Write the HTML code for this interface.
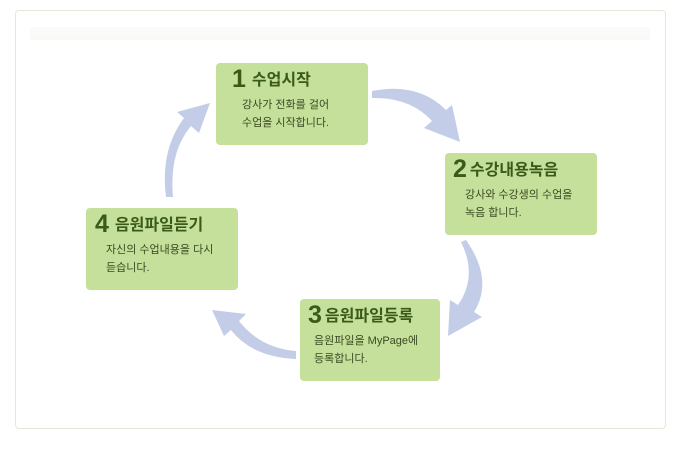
<!DOCTYPE html>
<html><head><meta charset="utf-8"><style>
body{margin:0;width:680px;height:451px;background:#fff;position:relative;overflow:hidden;font-family:"Liberation Sans","Noto Sans CJK KR","NanumGothic",sans-serif}
.frame{position:absolute;left:15px;top:10px;width:649px;height:417px;border:1px solid #e3e8d8;border-radius:4px}
.band{position:absolute;left:30px;top:27px;width:620px;height:13px;background:linear-gradient(#fbfbfa,#f9faf8)}
.box{position:absolute;background:#c5e09b;border-radius:4px;color:#3a5a1a}
.box h3{margin:0;font-size:16px;font-weight:bold;color:#3a5a1a;white-space:nowrap}
.box h3 b{font-size:25px;margin-right:6px;vertical-align:-2px}
.box p{margin:0;font-size:11px;line-height:18px;color:#3a4a22;white-space:nowrap}
</style></head><body>
<div class="frame"></div><div class="band"></div>
<svg width="680" height="451" style="position:absolute;left:0;top:0">
<g fill="#c3cde8">
<path d="M372,91 Q418,82 446,110 L452,105 L460,142 L424,128 L432,121 Q410,97 372,98 Z"/>
<path d="M466,240 Q494,280 474,312 L482,317 L448,336 L450,300 L458,305 Q478,276 461,242 Z"/>
<path d="M296,359 Q252,357 231,330 L224,336 L212,310 L246,314 L239,321 Q260,348 296,351 Z"/>
<path d="M173,197 Q169,152 191,126 L199,133 L210,103 L177,112 L184,118 Q160,150 166,197 Z"/>
</g></svg>
<div class="box" style="left:216px;top:63px;width:152px;height:82px">
<h3 style="margin:2px 0 0 16px"><b>1</b>수업시작</h3>
<p style="margin:2px 0 0 26px">강사가 전화를 걸어<br>수업을 시작합니다.</p></div>
<div class="box" style="left:445px;top:153px;width:152px;height:82px">
<h3 style="margin:2px 0 0 8px"><b style="margin-right:3px">2</b>수강내용녹음</h3>
<p style="margin:2px 0 0 20px">강사와 수강생의 수업을<br>녹음 합니다.</p></div>
<div class="box" style="left:300px;top:299px;width:140px;height:82px">
<h3 style="margin:2px 0 0 8px"><b style="margin-right:3px">3</b>음원파일등록</h3>
<p style="margin:2px 0 0 14px">음원파일을 MyPage에<br>등록합니다.</p></div>
<div class="box" style="left:86px;top:208px;width:152px;height:82px">
<h3 style="margin:2px 0 0 9px"><b>4</b>음원파일듣기</h3>
<p style="margin:2px 0 0 20px">자신의 수업내용을 다시<br>듣습니다.</p></div>
</body></html>
